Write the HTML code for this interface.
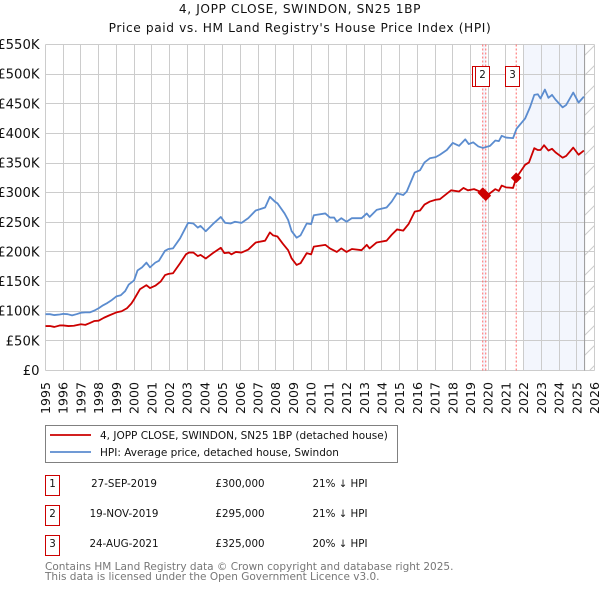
<!DOCTYPE html>
<html>
<head>
<meta charset="utf-8">
<style>
html,body{margin:0;padding:0;background:#fff;}
body{width:600px;height:590px;overflow:hidden;position:relative;}
svg{position:absolute;left:0;top:0;}
text{font-family:"DejaVu Sans","Liberation Sans",sans-serif;}
</style>
</head>
<body>
<svg id="c" width="600" height="590" viewBox="0 0 600 590">
<defs>
<pattern id="hatch" patternUnits="userSpaceOnUse" width="20" height="20">
<path d="M0 20L20 0" stroke="#ccc" stroke-width="1" fill="none"/>
</pattern>
</defs>
<text x="300" y="13" text-anchor="middle" font-size="12.2" letter-spacing="0.6" fill="#111">4, JOPP CLOSE, SWINDON, SN25 1BP</text>
<text x="300" y="32" text-anchor="middle" font-size="12.2" letter-spacing="0.6" fill="#111">Price paid vs. HM Land Registry's House Price Index (HPI)</text>
<g id="plot"></g>
<g>
<rect x="45.5" y="425.5" width="352" height="37" fill="#fff" stroke="#808080"/>
<line x1="50" x2="91" y1="435" y2="435" stroke="#cc0000" stroke-width="1.8"/>
<text x="100" y="439" font-size="10.5" fill="#111">4, JOPP CLOSE, SWINDON, SN25 1BP (detached house)</text>
<line x1="50" x2="91" y1="452" y2="452" stroke="#5b8ccf" stroke-width="1.8"/>
<text x="100" y="456" font-size="10.5" fill="#111">HPI: Average price, detached house, Swindon</text>
</g>
<g font-size="10.3" fill="#111">
<rect x="45.5" y="475.5" width="14" height="20" fill="#fff" stroke="#c00"/>
<text x="52.5" y="487" text-anchor="middle">1</text>
<text x="124" y="487" text-anchor="middle">27-SEP-2019</text>
<text x="240" y="487" text-anchor="middle">£300,000</text>
<text x="340" y="487" text-anchor="middle">21% ↓ HPI</text>
<rect x="45.5" y="505.5" width="14" height="20" fill="#fff" stroke="#c00"/>
<text x="52.5" y="517" text-anchor="middle">2</text>
<text x="124" y="517" text-anchor="middle">19-NOV-2019</text>
<text x="240" y="517" text-anchor="middle">£295,000</text>
<text x="340" y="517" text-anchor="middle">21% ↓ HPI</text>
<rect x="45.5" y="535.5" width="14" height="20" fill="#fff" stroke="#c00"/>
<text x="52.5" y="547" text-anchor="middle">3</text>
<text x="124" y="547" text-anchor="middle">24-AUG-2021</text>
<text x="240" y="547" text-anchor="middle">£325,000</text>
<text x="340" y="547" text-anchor="middle">20% ↓ HPI</text>
</g>
<text x="45" y="570" font-size="10.5" fill="#777">Contains HM Land Registry data © Crown copyright and database right 2025.</text>
<text x="45" y="580" font-size="10.5" fill="#777">This data is licensed under the Open Government Licence v3.0.</text>
</svg>
<script>
const yearTicks = [1995,1996,1997,1998,1999,2000,2001,2002,2003,2004,2005,2006,2007,2008,2009,2010,2011,2012,2013,2014,2015,2016,2017,2018,2019,2020,2021,2022,2023,2024,2025,2026];
const valueTicks = [0,50,100,150,200,250,300,350,400,450,500,550];
const valueTickLabels = ['£0','£50K','£100K','£150K','£200K','£250K','£300K','£350K','£400K','£450K','£500K','£550K'];
const hpiDates = [1995,1995.25,1995.5,1995.8,1996,1996.25,1996.5,1996.75,1997,1997.25,1997.5,1997.75,1998,1998.25,1998.5,1998.75,1999,1999.25,1999.5,1999.7,2000,2000.2,2000.45,2000.7,2000.9,2001.2,2001.4,2001.75,2001.95,2002.2,2002.6,2003.05,2003.35,2003.6,2003.75,2004.05,2004.45,2004.9,2005.15,2005.45,2005.7,2006.07,2006.45,2006.87,2007.1,2007.4,2007.67,2007.95,2008.1,2008.5,2008.7,2008.9,2009.18,2009.4,2009.75,2010,2010.15,2010.8,2011.06,2011.3,2011.45,2011.7,2012,2012.3,2012.85,2013.14,2013.3,2013.7,2014.26,2014.55,2014.85,2015.2,2015.4,2015.85,2016.15,2016.4,2016.7,2017.03,2017.27,2017.66,2018,2018.35,2018.7,2018.9,2019.15,2019.44,2019.7,2020.1,2020.4,2020.6,2020.76,2021,2021.4,2021.6,2022.08,2022.37,2022.6,2022.8,2022.95,2023.2,2023.4,2023.6,2023.8,2024.2,2024.4,2024.8,2025.1,2025.4];
const hpiValues = [95,95,93.5,94.5,95.5,95,93,95,97.5,98,98,101,105,110,114,119,125,127,134,145,152,169,174,182,174,182,185,202,205,206,223,249,248,241,244,235,247,259,249,248,251,249,257,270,272,275,293,285,282,265,254,235,224,228,248,247,262,265,258,258,251,257,251,257,257,265,259,271,275,285,299,296,302,334,338,351,358,360,364,372,384,379,390,382,385,378,375.5,379,388,387,396,393,392,408,425,445,465,466,459,474,460,465,457,444,448,469,452,462];
const paidDates = [1995,1995.25,1995.5,1995.8,1996,1996.3,1996.6,1997,1997.25,1997.5,1997.75,1998,1998.3,1998.6,1999,1999.3,1999.6,1999.85,2000,2000.33,2000.7,2000.9,2001.2,2001.5,2001.75,2001.95,2002.2,2002.6,2002.93,2003.1,2003.35,2003.6,2003.75,2004.05,2004.45,2004.9,2005.1,2005.35,2005.5,2005.75,2006.07,2006.45,2006.87,2007.4,2007.67,2007.85,2008.1,2008.4,2008.7,2008.9,2009.18,2009.4,2009.75,2010,2010.15,2010.8,2011.06,2011.45,2011.7,2012,2012.3,2012.85,2013.14,2013.3,2013.7,2014.26,2014.55,2014.85,2015.2,2015.5,2015.85,2016.15,2016.4,2016.7,2017.03,2017.27,2017.9,2018.35,2018.6,2018.85,2019.2,2019.69,2019.86,2020.05,2020.4,2020.6,2020.76,2021,2021.4,2021.58,2022.08,2022.3,2022.6,2022.8,2022.95,2023.15,2023.4,2023.6,2023.8,2024.2,2024.4,2024.8,2025.1,2025.4];
const paidValues = [75,75,73.5,76,76,75,75.5,78,77,80,83.5,84,89,93,98,100,105,113,120,137,144,139,143,150,161,163,164,181,196,199,199,193,195,189,198,207,198,199,196,200,199,204,216,219,233,228,226,214,203,189,178,181,198,196,209,212,206,200,206,200,205,203,212,206,216,219,229,238,236,247,268,270,280,285,288,289,304,302,308,304,306,300,295,298,306,303,312,309,308,325,347,351,375,372,372,380,371,374,368,359,362,376,364,371];
const saleDates = [2019.69,2019.86,2021.58];
const saleValues = [300,295,325];
const saleLabels = ['1','2','3'];
const forecastStart = 2022;
const forecastEnd = 2025.44;

const NS = 'http://www.w3.org/2000/svg';
const plot = document.getElementById('plot');
const X0 = 45.5, X1 = 594.5, Y0 = 370.5, Y1 = 44.5;
function xScale(year){ return X0 + (year - 1995) * (X1 - X0) / 31; }
function yScale(v){ return Y0 - v * (Y0 - Y1) / 550; }
function make(tag, attrs){
  const el = document.createElementNS(NS, tag);
  for (const k in attrs) el.setAttribute(k, attrs[k]);
  plot.appendChild(el);
  return el;
}
function crisp(v){ return Math.floor(v) + 0.5; }

const forecastBand = make('rect', {x:xScale(forecastStart), y:Y1, width:xScale(forecastEnd)-xScale(forecastStart), height:Y0-Y1, fill:'#f3f6fd'});



const saleBand = make('rect', {x:xScale(saleDates[0]), y:Y1, width:xScale(saleDates[1])-xScale(saleDates[0]), height:Y0-Y1, fill:'#f3f6fd'});



const hatchRect = make('rect', {x:xScale(forecastEnd), y:Y1, width:X1-xScale(forecastEnd), height:Y0-Y1, fill:'url(#hatch)'});



yearTicks.forEach(function(yr){
  const gx = crisp(xScale(yr));
  const g = make('line', {x1:gx, x2:gx, y1:Y1, y2:Y0, stroke:'#ccc', 'stroke-width':1});
  
  
  const t = make('text', {transform:'translate(' + (xScale(yr)+4.5) + ',' + 414 + ') rotate(-90)', 'font-size':12.6, fill:'#111'});
  t.textContent = yr;
  
  
});
valueTicks.forEach(function(v, i){
  const gy = crisp(yScale(v));
  const g = make('line', {x1:X0, x2:X1, y1:gy, y2:gy, stroke:'#ccc', 'stroke-width':1});
  
  
  const t = make('text', {x:39.5, y:yScale(v)+4.5, 'text-anchor':'end', 'font-size':13.2, fill:'#111'});
  t.textContent = valueTickLabels[i];
  
  
});

const endLine = make('line', {x1:xScale(forecastEnd), x2:xScale(forecastEnd), y1:Y1, y2:Y0, stroke:'#999', 'stroke-width':1});



saleDates.forEach(function(d){
  const l = make('line', {x1:xScale(d), x2:xScale(d), y1:Y1, y2:Y0, stroke:'#ff6666', 'stroke-width':1, 'stroke-dasharray':'2 2'});
  
  
});

function pathOf(dates, values){
  return dates.map(function(d, i){ return (i ? 'L' : 'M') + xScale(d).toFixed(2) + ' ' + yScale(values[i]).toFixed(2); }).join('');
}
const hpiLine = make('path', {d:pathOf(hpiDates, hpiValues), fill:'none', stroke:'#5b8ccf', 'stroke-width':1.8, 'stroke-linejoin':'round'});


const paidLine = make('path', {d:pathOf(paidDates, paidValues), fill:'none', stroke:'#cc0000', 'stroke-width':1.8, 'stroke-linejoin':'round'});



saleDates.forEach(function(d, i){
  const cx = xScale(d), cy = yScale(saleValues[i]), r = 4.7;
  const m = make('path', {d:'M'+cx+' '+(cy-r)+'L'+(cx+r)+' '+cy+'L'+cx+' '+(cy+r)+'L'+(cx-r)+' '+cy+'Z', fill:'#cc0000', stroke:'#cc0000', 'stroke-width':1, 'stroke-linejoin':'round'});
  
  
});
saleDates.forEach(function(d, i){
  const bx = Math.round(xScale(d)) - 10.5;
  const box = make('rect', {x:bx, y:66.5, width:14, height:20, fill:'#fff', stroke:'#c00', 'stroke-width':1});
  
  
  const t = make('text', {x:bx+7, y:78, 'text-anchor':'middle', 'font-size':10.3, fill:'#111'});
  t.textContent = saleLabels[i];
  
  
});
</script>
</body>
</html>
